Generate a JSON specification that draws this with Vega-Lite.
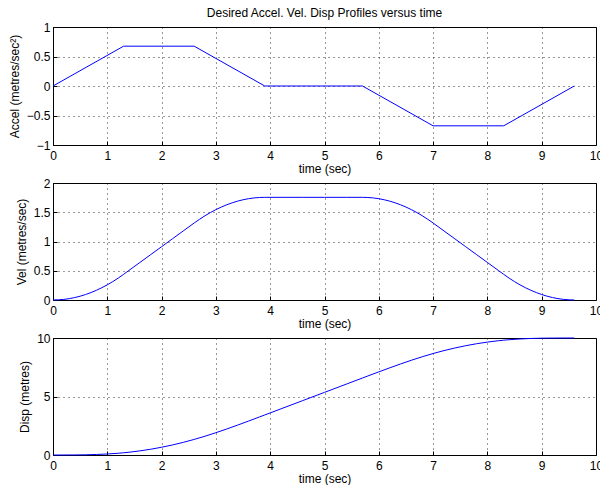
{
  "$schema": "https://vega.github.io/schema/vega-lite/v6.json",
  "padding": {"left": 7, "top": 6, "right": 0, "bottom": 0},
  "background": "white",
  "bounds": "flush",
  "spacing": 38,
  "datasets": {
    "acc": [
      {"t": 0, "a": 0}, {"t": 1.3, "a": 0.675}, {"t": 2.6, "a": 0.675}, {"t": 3.9, "a": 0},
      {"t": 5.7, "a": 0}, {"t": 7.0, "a": -0.675}, {"t": 8.3, "a": -0.675}, {"t": 9.6, "a": 0}
    ],
    "prof": [
      {"t": 0, "v": 0, "d": 0},
      {"t": 0.2, "v": 0.0104, "d": 0.0007},
      {"t": 0.4, "v": 0.0415, "d": 0.0055},
      {"t": 0.6, "v": 0.0935, "d": 0.0187},
      {"t": 0.8, "v": 0.1662, "d": 0.0443},
      {"t": 1.0, "v": 0.2596, "d": 0.0865},
      {"t": 1.2, "v": 0.3738, "d": 0.1495},
      {"t": 1.3, "v": 0.4388, "d": 0.1901},
      {"t": 1.4, "v": 0.5063, "d": 0.2374},
      {"t": 1.6, "v": 0.6413, "d": 0.3521},
      {"t": 1.8, "v": 0.7763, "d": 0.4939},
      {"t": 2.0, "v": 0.9113, "d": 0.6626},
      {"t": 2.2, "v": 1.0463, "d": 0.8584},
      {"t": 2.4, "v": 1.1813, "d": 1.0811},
      {"t": 2.6, "v": 1.3163, "d": 1.3309},
      {"t": 2.8, "v": 1.4409, "d": 1.6069},
      {"t": 3.0, "v": 1.5447, "d": 1.9058},
      {"t": 3.2, "v": 1.6278, "d": 2.2234},
      {"t": 3.4, "v": 1.6901, "d": 2.5556},
      {"t": 3.6, "v": 1.7316, "d": 2.8981},
      {"t": 3.8, "v": 1.7524, "d": 3.2468},
      {"t": 3.9, "v": 1.755, "d": 3.4223},
      {"t": 4.2, "v": 1.755, "d": 3.9488},
      {"t": 4.6, "v": 1.755, "d": 4.6508},
      {"t": 5.0, "v": 1.755, "d": 5.3528},
      {"t": 5.4, "v": 1.755, "d": 6.0548},
      {"t": 5.7, "v": 1.755, "d": 6.5813},
      {"t": 5.8, "v": 1.7524, "d": 6.7567},
      {"t": 6.0, "v": 1.7316, "d": 7.1054},
      {"t": 6.2, "v": 1.6901, "d": 7.4479},
      {"t": 6.4, "v": 1.6278, "d": 7.7801},
      {"t": 6.6, "v": 1.5447, "d": 8.0977},
      {"t": 6.8, "v": 1.4409, "d": 8.3966},
      {"t": 7.0, "v": 1.3163, "d": 8.6726},
      {"t": 7.2, "v": 1.1813, "d": 8.9224},
      {"t": 7.4, "v": 1.0463, "d": 9.1451},
      {"t": 7.6, "v": 0.9113, "d": 9.3409},
      {"t": 7.8, "v": 0.7763, "d": 9.5096},
      {"t": 8.0, "v": 0.6413, "d": 9.6514},
      {"t": 8.2, "v": 0.5063, "d": 9.7661},
      {"t": 8.3, "v": 0.4388, "d": 9.8134},
      {"t": 8.4, "v": 0.3738, "d": 9.854},
      {"t": 8.6, "v": 0.2596, "d": 9.917},
      {"t": 8.8, "v": 0.1662, "d": 9.9592},
      {"t": 9.0, "v": 0.0935, "d": 9.9848},
      {"t": 9.2, "v": 0.0415, "d": 9.9945},
      {"t": 9.4, "v": 0.0104, "d": 9.999},
      {"t": 9.6, "v": 0, "d": 10}
    ]
  },
  "vconcat": [
    {
      "width": 543, "height": 118,
      "title": {"text": "Desired Accel. Vel. Disp Profiles versus time"},
      "data": {"name": "acc"},
      "mark": {"type": "line", "color": "#0000ff", "strokeWidth": 1},
      "encoding": {
        "x": {"field": "t", "type": "quantitative", "scale": {"domain": [0, 10], "nice": false},
              "axis": {"title": "time (sec)", "values": [0,1,2,3,4,5,6,7,8,9,10]}},
        "y": {"field": "a", "type": "quantitative", "scale": {"domain": [-1, 1], "nice": false},
              "axis": {"title": "Accel (metres/sec²)", "values": [-1,-0.5,0,0.5,1]}}
      }
    },
    {
      "width": 543, "height": 117,
      "data": {"name": "prof"},
      "mark": {"type": "line", "color": "#0000ff", "strokeWidth": 1, "interpolate": "monotone"},
      "encoding": {
        "x": {"field": "t", "type": "quantitative", "scale": {"domain": [0, 10], "nice": false},
              "axis": {"title": "time (sec)", "values": [0,1,2,3,4,5,6,7,8,9,10]}},
        "y": {"field": "v", "type": "quantitative", "scale": {"domain": [0, 2], "nice": false},
              "axis": {"title": "Vel (metres/sec)", "values": [0,0.5,1,1.5,2]}}
      }
    },
    {
      "width": 543, "height": 117,
      "data": {"name": "prof"},
      "mark": {"type": "line", "color": "#0000ff", "strokeWidth": 1, "interpolate": "monotone"},
      "encoding": {
        "x": {"field": "t", "type": "quantitative", "scale": {"domain": [0, 10], "nice": false},
              "axis": {"title": "time (sec)", "values": [0,1,2,3,4,5,6,7,8,9,10]}},
        "y": {"field": "d", "type": "quantitative", "scale": {"domain": [0, 10], "nice": false},
              "axis": {"title": "Disp (metres)", "values": [0,5,10]}}
      }
    }
  ],
  "config": {
    "font": "Liberation Sans",
    "view": {"stroke": "#000", "strokeWidth": 1},
    "title": {"fontSize": 12, "fontWeight": "normal", "color": "#000", "offset": 1.5, "anchor": "middle", "font": "Liberation Sans"},
    "axis": {
      "format": "~r",
      "domain": false,
      "grid": true,
      "gridColor": "#000",
      "gridDash": [1, 4],
      "gridWidth": 1,
      "gridOpacity": 0.8,
      "ticks": true,
      "tickSize": -4,
      "tickColor": "#000",
      "labelFontSize": 12,
      "labelColor": "#000",
      "labelFont": "Liberation Sans",
      "titleFont": "Liberation Sans",
      "titleFontSize": 12,
      "titleFontWeight": "normal",
      "titleColor": "#000"
    },
    "axisX": {"labelPadding": 9, "titlePadding": 2, "labelFlush": false},
    "axisY": {"labelPadding": 7, "titlePadding": 5, "labelFlush": false}
  }
}
